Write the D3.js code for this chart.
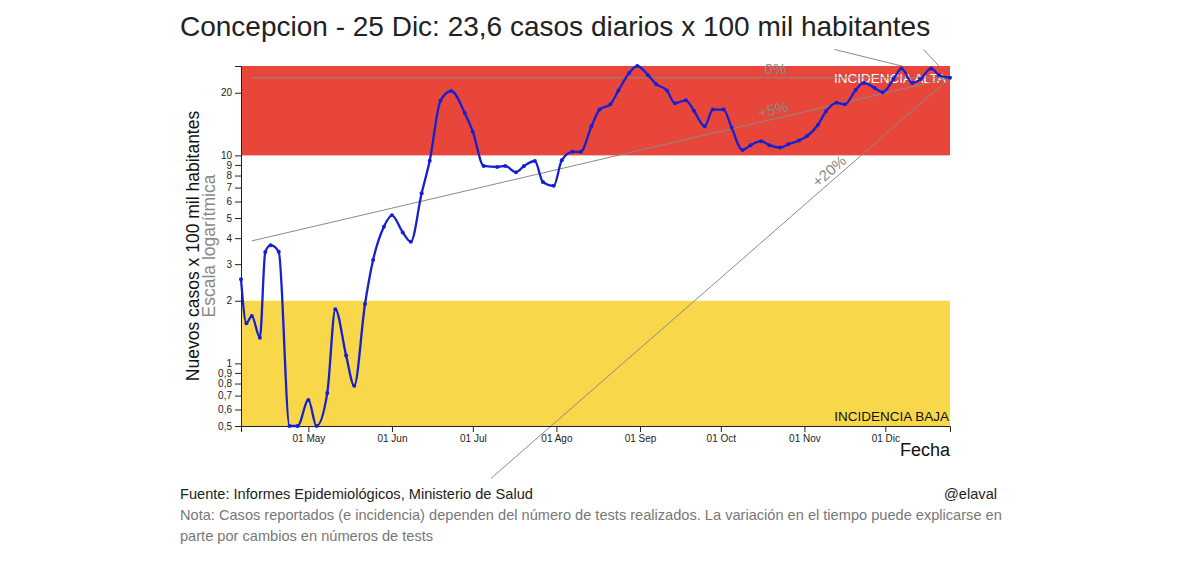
<!DOCTYPE html>
<html>
<head>
<meta charset="utf-8">
<script src="https://cdn.jsdelivr.net/npm/d3@7"></script>
<style>
  body { margin: 0; background: #fff; font-family: "Liberation Sans", Arial, sans-serif; }
  .tick text { font-size: 10px; fill: #222; }
  .domain, .tick line { stroke: #222; }
</style>
</head>
<body>
<svg id="graph" width="1200" height="561"></svg>
<script>
// informes epidemiologicos (lunes y viernes), 2020
var fechas = ['2020-04-06','2020-04-08','2020-04-10','2020-04-13','2020-04-15','2020-04-17','2020-04-20','2020-04-24','2020-04-27',
  '2020-05-01','2020-05-04','2020-05-08','2020-05-11','2020-05-15','2020-05-18','2020-05-22','2020-05-25','2020-05-29',
  '2020-06-01','2020-06-05','2020-06-08','2020-06-12','2020-06-15','2020-06-19','2020-06-23','2020-06-28',
  '2020-07-01','2020-07-05','2020-07-10','2020-07-13','2020-07-17','2020-07-20','2020-07-24','2020-07-27','2020-07-31',
  '2020-08-03','2020-08-07','2020-08-10','2020-08-14','2020-08-17','2020-08-21','2020-08-24','2020-08-28','2020-08-31',
  '2020-09-04','2020-09-07','2020-09-11','2020-09-14','2020-09-18','2020-09-21','2020-09-25','2020-09-28',
  '2020-10-02','2020-10-05','2020-10-09','2020-10-12','2020-10-16','2020-10-19','2020-10-23','2020-10-26','2020-10-30',
  '2020-11-02','2020-11-06','2020-11-09','2020-11-13','2020-11-16','2020-11-20','2020-11-23','2020-11-27','2020-11-30',
  '2020-12-04','2020-12-07','2020-12-11','2020-12-14','2020-12-18','2020-12-21','2020-12-25']

var casos = [2.54,1.56,1.69,1.33,3.43,3.7,3.44,0.5,0.5,
  0.667,0.5,0.72,1.82,1.09,0.78,1.93,3.14,4.54,
  5.15,4.26,3.84,6.57,9.42,18.3,20.4,16.0,
  13.0,8.9,8.8,8.9,8.3,8.9,9.4,7.44,7.14,
  9.48,10.4,10.4,13.8,16.6,17.6,20.5,24.9,26.9,
  24.3,22.0,20.5,17.8,18.4,16.4,13.8,16.6,
  16.6,13.6,10.6,11.2,11.7,11.2,10.9,11.3,11.8,
  12.4,14.0,16.3,17.9,17.6,20.6,22.3,21.1,20.1,
  23.2,26.2,22.3,23.2,26.2,24.3,23.6]

var meses = ['Ene','Feb','Mar','Abr','May','Jun','Jul','Ago','Sep','Oct','Nov','Dic']
var yTicks = [0.5,0.6,0.7,0.8,0.9,1,2,3,4,5,6,7,8,9,10,20]

// crecimiento semanal de las lineas de referencia
var tendencias = [0.05, 0.2, 0, -0.05, -0.2]
var tendenciaInicio = '2020-04-10'
var limiteBajo = 0.28, limiteAlto = 32.3

var umbralAlto = 10, umbralBajo = 2

var parse = d3.timeParse('%Y-%m-%d')
var data = fechas.map(function(f, i){ return {date: parse(f), v: casos[i]} })
var last = data[data.length - 1]

var m = {top: 66, left: 241}, width = 709, height = 360
var svg = d3.select('#graph')
var g = svg.append('g').attr('transform', 'translate(' + m.left + ',' + m.top + ')')

var x = d3.scaleTime().domain(d3.extent(data, function(d){ return d.date })).range([0, width])
var y = d3.scaleLog().domain([0.5, d3.max(casos)]).range([height, 0])

var blue = '#1420d2'

// lineas de tendencia
function tendencia(r){
  var perDay = Math.log(1 + r) / 7
  var start = parse(tendenciaInicio)
  if (r !== 0){
    var lim = r > 0 ? limiteBajo : limiteAlto
    var dd = new Date(+last.date + Math.log(lim / last.v) / perDay * 864e5)
    if (dd > start) start = dd
  }
  var v0 = last.v * Math.exp(perDay * (start - last.date) / 864e5)
  return {r: r, pts: [{date: start, v: v0}, {date: last.date, v: last.v}]}
}
var lineas = tendencias.map(tendencia)
var tline = d3.line().x(function(d){ return x(d.date) }).y(function(d){ return y(d.v) })

// the falling ones only show above the plot
g.selectAll('path.neg').data(lineas.filter(function(d){ return d.r < 0 }))
  .enter().append('path').attr('class', 'neg')
  .attr('d', function(d){ return tline(d.pts) })
  .attr('fill', 'none').attr('stroke', '#8a8a8a').attr('stroke-width', 1)

// bandas de incidencia
g.append('rect')
  .attr('x', 0).attr('width', width)
  .attr('y', 0).attr('height', y(umbralAlto))
  .attr('fill', '#e8463a')
g.append('rect')
  .attr('x', 0).attr('width', width)
  .attr('y', y(umbralBajo)).attr('height', height - y(umbralBajo))
  .attr('fill', '#f8d84a')

g.append('text')
  .attr('x', width - 4).attr('y', 17)
  .attr('text-anchor', 'end').attr('fill', '#fff')
  .style('font-size', '13.5px')
  .text('INCIDENCIA ALTA')
g.append('text')
  .attr('x', width - 1).attr('y', height - 5)
  .attr('text-anchor', 'end').attr('fill', '#111')
  .style('font-size', '13.5px')
  .text('INCIDENCIA BAJA')

var pos = lineas.filter(function(d){ return d.r >= 0 })
g.selectAll('path.pos').data(pos)
  .enter().append('path').attr('class', 'pos')
  .attr('d', function(d){ return tline(d.pts) })
  .attr('fill', 'none').attr('stroke', '#8a8a8a').attr('stroke-width', 1)

g.selectAll('text.tl').data(pos)
  .enter().append('text').attr('class', 'tl')
  .attr('transform', function(d){
    var x0 = x(d.pts[0].date), y0 = y(d.pts[0].v), x1 = x(d.pts[1].date), y1 = y(d.pts[1].v)
    var t = 0.75, a = Math.atan2(y1 - y0, x1 - x0) * 180 / Math.PI
    return 'translate(' + (x0 + t * (x1 - x0)) + ',' + (y0 + t * (y1 - y0)) + ') rotate(' + a + ')'
  })
  .attr('dy', -4)
  .attr('text-anchor', 'middle')
  .attr('fill', '#8a8a8a')
  .style('font-size', '15px')
  .text(function(d){ return (d.r > 0 ? '+' : '') + Math.round(d.r * 100) + '%' })

// ejes
var fmtNum = function(d){ return String(d).replace('.', ',') }
g.append('g').call(d3.axisLeft(y).tickValues(yTicks).tickFormat(fmtNum))

g.append('g')
  .attr('transform', 'translate(0,' + height + ')')
  .call(d3.axisBottom(x).ticks(d3.timeMonth.every(1))
    .tickFormat(function(d){ return '01 ' + meses[d.getMonth()] }))

// serie
var line = d3.line()
  .x(function(d){ return x(d.date) })
  .y(function(d){ return y(d.v) })
  .curve(d3.curveMonotoneX)

g.append('path').datum(data)
  .attr('d', line)
  .attr('fill', 'none').attr('stroke', blue).attr('stroke-width', 2.3)

g.selectAll('circle').data(data)
  .enter().append('circle')
  .attr('cx', function(d){ return x(d.date) })
  .attr('cy', function(d){ return y(d.v) })
  .attr('r', 2).attr('fill', blue)

// textos
g.append('text')
  .attr('x', width).attr('y', height + 30)
  .attr('text-anchor', 'end').attr('fill', '#111')
  .style('font-size', '18px')
  .text('Fecha')

g.append('text')
  .attr('transform', 'translate(-42,' + height / 2 + ') rotate(-90)')
  .attr('text-anchor', 'middle').attr('fill', '#111')
  .style('font-size', '17.5px')
  .text('Nuevos casos x 100 mil habitantes')
g.append('text')
  .attr('transform', 'translate(-26,' + height / 2 + ') rotate(-90)')
  .attr('text-anchor', 'middle').attr('fill', '#888')
  .style('font-size', '17.5px')
  .text('Escala logarítmica')

svg.append('text')
  .attr('x', 180).attr('y', 36)
  .attr('fill', '#222')
  .style('font-size', '28px')
  .text('Concepcion - 25 Dic: 23,6 casos diarios x 100 mil habitantes')

svg.append('text')
  .attr('x', 180).attr('y', 499)
  .attr('fill', '#222').style('font-size', '14.6px')
  .text('Fuente: Informes Epidemiológicos, Ministerio de Salud')
svg.append('text')
  .attr('x', 997).attr('y', 499)
  .attr('text-anchor', 'end')
  .attr('fill', '#222').style('font-size', '14.6px')
  .text('@elaval')
svg.append('text')
  .attr('x', 180).attr('y', 520)
  .attr('fill', '#777').style('font-size', '14.6px')
  .text('Nota: Casos reportados (e incidencia) dependen del número de tests realizados. La variación en el tiempo puede explicarse en')
svg.append('text')
  .attr('x', 180).attr('y', 541)
  .attr('fill', '#777').style('font-size', '14.6px')
  .text('parte por cambios en números de tests')
</script>
</body>
</html>
